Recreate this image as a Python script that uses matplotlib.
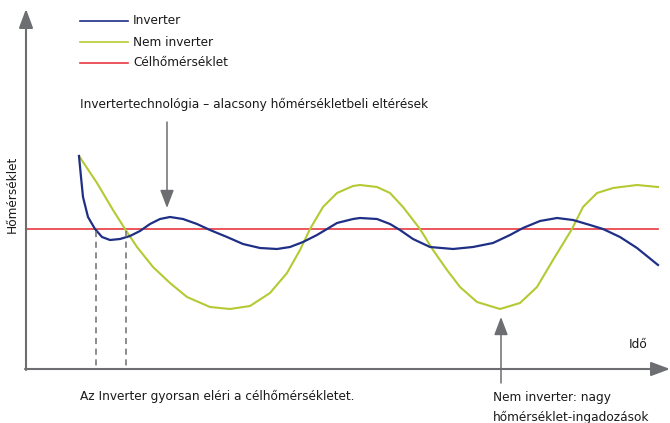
import matplotlib
matplotlib.use('Agg')
import matplotlib.pyplot as plt

plt.rcParams['font.family'] = ['DejaVu Sans']
plt.rcParams['font.stretch'] = 'condensed'

# Inverter görbe (pixelkoordináták a referencia képről)
inv_x = [79, 81, 83, 88, 95, 102, 110, 120, 130, 140, 150, 160, 170, 183, 197, 210,
         227, 243, 260, 277, 290, 303, 317, 327, 337, 353, 360, 377, 390, 400, 413,
         430, 453, 473, 493, 510, 523, 540, 557, 573, 590, 603, 620, 637, 658]
inv_y = [156, 177, 197, 217, 229, 237, 240, 239, 236, 231, 224, 219, 217, 219, 224, 230,
         237, 244, 248, 249, 247, 242, 235, 229, 223, 219, 218, 219, 224, 230, 239,
         247, 249, 247, 243, 235, 228, 221, 218, 220, 225, 229, 237, 248, 265]

# Nem inverter görbe
non_x = [79, 97, 113, 125, 137, 153, 170, 187, 210, 230, 250, 270, 287, 300, 310,
         323, 337, 353, 360, 377, 390, 403, 420, 433, 447, 460, 477, 500, 520, 537,
         553, 572, 583, 597, 613, 637, 658]
non_y = [156, 183, 210, 229, 247, 267, 283, 297, 307, 309, 306, 293, 273, 250, 229,
         207, 193, 186, 185, 187, 193, 207, 229, 250, 270, 287, 302, 309, 303, 287,
         260, 229, 207, 193, 188, 185, 187]

target_y = 229
target_x = [26, 658]
reach_x = [96, 126]

legend_labels = ['Inverter', 'Nem inverter', 'Célhőmérséklet']
blue = '#1f2f86'
green = '#b5c933'
red = '#e63a3f'
gray = '#6d6e71'
txt = '#1a1a1a'
fs = 9.7

fig = plt.figure(figsize=(6.7, 4.23), dpi=100)
ax = fig.add_axes([0, 0, 1, 1])
ax.set_xlim(0, 670)
ax.set_ylim(423, 0)
ax.axis('off')

# tengelyek nyíllal
arr = dict(arrowstyle='-|>,head_length=1.15,head_width=0.43', mutation_scale=10,
           color=gray, lw=1.5, shrinkA=0, shrinkB=0)
ax.annotate('', xy=(26, 9), xytext=(26, 370), arrowprops=arr)
ax.annotate('', xy=(670, 369), xytext=(25, 369), arrowprops=arr)

# célhőmérséklet
ax.plot(target_x, [target_y, target_y], color=red, lw=1.2)
ax.plot(non_x, non_y, color=green, lw=1.5, solid_joinstyle='round')
ax.plot(inv_x, inv_y, color=blue, lw=1.6, solid_joinstyle='round')

# szaggatott vonalak
for x in reach_x:
    ax.plot([x, x], [231, 369], color=gray, lw=1.1, ls=(0, (4, 3)))

# jelmagyarázat
for i, (lab, col) in enumerate(zip(legend_labels, [blue, green, red])):
    y = 21 + i * 21
    ax.plot([80, 128], [y, y], color=col, lw=1.2)
    ax.text(133, y, lab, fontsize=fs, va='center', ha='left', color=txt)

# annotációk
arr2 = dict(arrowstyle='-|>,head_length=1.1,head_width=0.42', mutation_scale=10,
            color=gray, lw=1.1, shrinkA=0, shrinkB=0)
ax.text(80, 104, 'Invertertechnológia – alacsony hőmérsékletbeli eltérések',
        fontsize=fs, va='center', ha='left', color=txt)
ax.annotate('', xy=(167, 208), xytext=(167, 122), arrowprops=arr2)

ax.annotate('', xy=(501, 317), xytext=(501, 383), arrowprops=arr2)
ax.text(493, 397, 'Nem inverter: nagy', fontsize=fs, va='center', ha='left', color=txt)
ax.text(493, 417, 'hőmérséklet-ingadozások', fontsize=fs, va='center', ha='left', color=txt)

ax.text(80, 396, 'Az Inverter gyorsan eléri a célhőmérsékletet.', fontsize=fs,
        va='center', ha='left', color=txt)
ax.text(638, 345, 'Idő', fontsize=fs, va='center', ha='center', color=txt)
ax.text(12, 194, 'Hőmérséklet', fontsize=fs, va='center', ha='center',
        rotation=90, color=txt)

fig.savefig('out.png', dpi=100)
